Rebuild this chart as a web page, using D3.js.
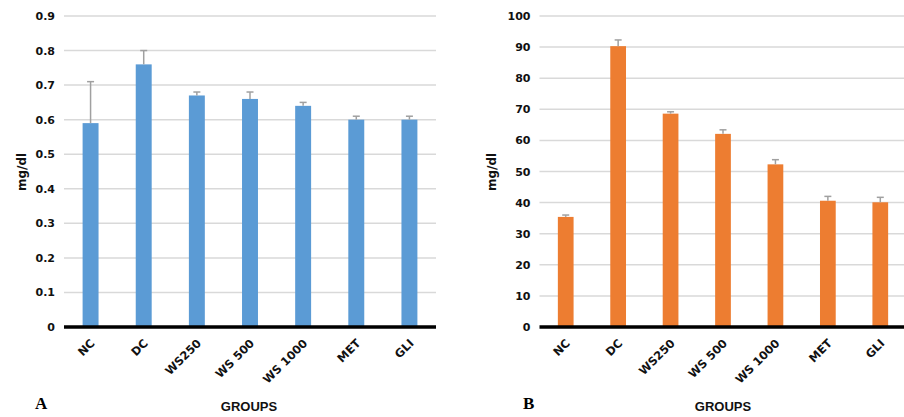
<!DOCTYPE html>
<html>
<head>
<meta charset="utf-8">
<script src="https://cdn.jsdelivr.net/npm/d3@7"></script>
<style>
  body { margin: 0; background: #fff; }
  svg { display: block; }
</style>
</head>
<body>
<div id="chart"></div>
<script>
// groups shared by both panels
const groups = ['NC', 'DC', 'WS250', 'WS 500', 'WS 1000', 'MET', 'GLI'];

// panel A
const valuesA = [0.59, 0.76, 0.67, 0.66, 0.64, 0.60, 0.60];
const errorsA = [0.12, 0.04, 0.01, 0.02, 0.01, 0.01, 0.01];
const ticksA = [0, 0.1, 0.2, 0.3, 0.4, 0.5, 0.6, 0.7, 0.8, 0.9];

// panel B
const valuesB = [35.4, 90.3, 68.6, 62.1, 52.3, 40.6, 40.1];
const errorsB = [0.6, 2.0, 0.6, 1.3, 1.5, 1.4, 1.6];
const ticksB = [0, 10, 20, 30, 40, 50, 60, 70, 80, 90, 100];

const W = 904, H = 417;
const svg = d3.select('#chart')
    .append('svg')
    .attr('width', W)
    .attr('height', H);

function drawPanel(opt) {
    const top = 16, bottom = 327;

    const x = d3.scaleBand()
        .domain(groups)
        .range([opt.left, opt.right])
        .paddingInner(0.7)
        .paddingOuter(0.35);

    const y = d3.scaleLinear()
        .domain([0, d3.max(opt.ticks)])
        .range([bottom, top]);

    const g = svg.append('g');

    // gridlines
    g.selectAll('.grid')
        .data(opt.ticks.slice(1))
        .join('line')
        .attr('x1', opt.left)
        .attr('x2', Math.min(opt.right, W))
        .attr('y1', d => y(d))
        .attr('y2', d => y(d))
        .attr('stroke', '#d9d9d9')
        .attr('stroke-width', 1.5);

    // y axis labels
    const yAxis = g.append('g')
        .attr('transform', `translate(${opt.left},0)`)
        .call(d3.axisLeft(y).tickValues(opt.ticks).tickSize(0).tickPadding(9)
            .tickFormat(d => String(d)));
    yAxis.select('.domain').remove();
    yAxis.selectAll('text')
        .attr('font-family', 'DejaVu Sans')
        .attr('font-weight', 'bold')
        .attr('font-size', '11px')
        .attr('fill', '#111');

    // bars
    g.selectAll('.bar')
        .data(groups)
        .join('rect')
        .attr('x', d => x(d))
        .attr('y', (d, i) => y(opt.values[i]))
        .attr('width', x.bandwidth())
        .attr('height', (d, i) => bottom - y(opt.values[i]))
        .attr('fill', opt.color);

    // error bars (upper only)
    const eb = g.append('g')
        .attr('stroke', '#a0a0a0')
        .attr('stroke-width', 1.5);
    eb.selectAll('.stem')
        .data(groups)
        .join('line')
        .attr('x1', d => x(d) + x.bandwidth() / 2)
        .attr('x2', d => x(d) + x.bandwidth() / 2)
        .attr('y1', (d, i) => y(opt.values[i]))
        .attr('y2', (d, i) => y(opt.values[i] + opt.errors[i]));
    eb.selectAll('.cap')
        .data(groups)
        .join('line')
        .attr('x1', d => x(d) + x.bandwidth() / 2 - 3.5)
        .attr('x2', d => x(d) + x.bandwidth() / 2 + 3.5)
        .attr('y1', (d, i) => y(opt.values[i] + opt.errors[i]))
        .attr('y2', (d, i) => y(opt.values[i] + opt.errors[i]));

    // x axis baseline + labels
    const xAxis = g.append('g')
        .attr('transform', `translate(0,${bottom})`)
        .call(d3.axisBottom(x).tickSize(0).tickPadding(0));
    xAxis.select('.domain')
        .attr('d', `M${opt.left},0H${Math.min(opt.right, W)}`)
        .attr('stroke', '#000')
        .attr('stroke-width', 3.5);
    xAxis.selectAll('text')
        .attr('font-family', 'DejaVu Sans')
        .attr('font-weight', 'bold')
        .attr('font-size', '11.5px')
        .attr('fill', '#111')
        .attr('text-anchor', 'end')
        .attr('dy', null)
        .attr('y', 0)
        .attr('transform', 'translate(5,17) rotate(-45)');

    // y axis title
    g.append('text')
        .attr('transform', `translate(${opt.titleX},172) rotate(-90)`)
        .attr('text-anchor', 'middle')
        .attr('dy', '0.35em')
        .attr('font-family', 'DejaVu Sans')
        .attr('font-weight', 'bold')
        .attr('font-size', '12px')
        .attr('fill', '#111')
        .text('mg/dl');

    // x axis title
    g.append('text')
        .attr('x', opt.groupsX)
        .attr('y', 411)
        .attr('text-anchor', 'middle')
        .attr('font-family', 'Liberation Sans')
        .attr('font-weight', 'bold')
        .attr('font-size', '13px')
        .attr('fill', '#111')
        .text('GROUPS');

    // panel letter
    g.append('text')
        .attr('x', opt.letterX)
        .attr('y', 409)
        .attr('font-family', 'Liberation Serif')
        .attr('font-weight', 'bold')
        .attr('font-size', '17px')
        .attr('fill', '#000')
        .text(opt.letter);
}

drawPanel({
    left: 64, right: 436, values: valuesA, errors: errorsA, ticks: ticksA,
    color: '#5b9bd5', titleX: 22, groupsX: 249, letterX: 35, letter: 'A'
});
drawPanel({
    left: 539.5, right: 906.5, values: valuesB, errors: errorsB, ticks: ticksB,
    color: '#ed7d31', titleX: 492, groupsX: 723, letterX: 523, letter: 'B'
});
</script>
</body>
</html>
